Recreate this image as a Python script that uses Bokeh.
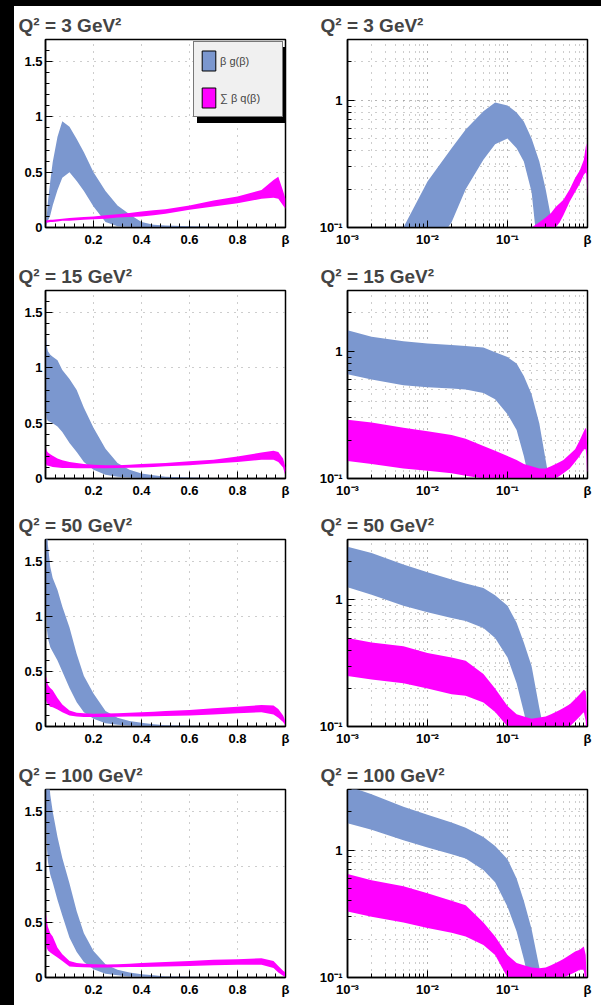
import numpy as np
from bokeh.plotting import figure
from bokeh.models import FixedTicker, CustomJSTickFormatter, Legend, LegendItem, Div, ColumnDataSource
from bokeh.layouts import column, row
from bokeh.embed import file_html
from bokeh.resources import INLINE

# ---------------- data ----------------
beta = [0.001, 0.002, 0.005, 0.01, 0.02, 0.03, 0.05, 0.07, 0.1, 0.13, 0.16, 0.2, 0.25,
        0.3, 0.35, 0.4, 0.45, 0.5, 0.6, 0.7, 0.8, 0.9, 0.95, 0.97, 0.99, 1.0]

q2_values = ["3", "15", "50", "100"]

# gluon band  beta*g(beta)
g3_lo = [0.005, 0.01, 0.03, 0.06, 0.11, 0.2, 0.34, 0.45, 0.5, 0.42, 0.33, 0.19, 0.05,
         0.012, 0.006, 0.004, 0.003, 0.002, 0.0015, 0.001, 0.001, 0.001, 0.001, 0.001, 0.001, 0.001]
g3_hi = [0.02, 0.04, 0.1, 0.23, 0.42, 0.59, 0.82, 0.96, 0.91, 0.8, 0.68, 0.5, 0.33,
         0.2, 0.12, 0.05, 0.025, 0.018, 0.012, 0.006, 0.003, 0.002, 0.002, 0.002, 0.002, 0.002]
g15_lo = [0.66, 0.6, 0.54, 0.52, 0.51, 0.5, 0.47, 0.42, 0.32, 0.24, 0.15, 0.08, 0.035,
          0.015, 0.008, 0.005, 0.004, 0.003, 0.002, 0.001, 0.001, 0.001, 0.001, 0.001, 0.001, 0.001]
g15_hi = [1.46, 1.3, 1.2, 1.15, 1.12, 1.1, 1.07, 0.98, 0.9, 0.8, 0.64, 0.46, 0.27,
          0.14, 0.08, 0.045, 0.03, 0.015, 0.008, 0.004, 0.003, 0.002, 0.002, 0.002, 0.002, 0.002]
g50_lo = [1.26, 1.1, 0.9, 0.8, 0.72, 0.68, 0.6, 0.5, 0.35, 0.22, 0.13, 0.07, 0.03,
          0.015, 0.008, 0.005, 0.004, 0.003, 0.002, 0.001, 0.001, 0.001, 0.001, 0.001, 0.001, 0.001]
g50_hi = [2.63, 2.35, 1.9, 1.65, 1.45, 1.35, 1.24, 1.09, 0.9, 0.66, 0.46, 0.3, 0.14,
          0.08, 0.05, 0.035, 0.02, 0.012, 0.006, 0.004, 0.003, 0.002, 0.002, 0.002, 0.002, 0.002]
g100_lo = [1.63, 1.45, 1.2, 1.05, 0.93, 0.86, 0.7, 0.56, 0.36, 0.23, 0.14, 0.075, 0.035,
           0.02, 0.01, 0.006, 0.004, 0.003, 0.002, 0.001, 0.001, 0.001, 0.001, 0.001, 0.001, 0.001]
g100_hi = [3.2, 2.75, 2.2, 1.9, 1.65, 1.5, 1.27, 1.08, 0.85, 0.6, 0.4, 0.24, 0.12,
           0.07, 0.045, 0.03, 0.02, 0.01, 0.006, 0.004, 0.003, 0.002, 0.002, 0.002, 0.002, 0.002]

# quark singlet band  sum_q beta*q(beta)
q3_lo = [0.04, 0.04, 0.045, 0.045, 0.05, 0.05, 0.055, 0.06, 0.06, 0.065, 0.07, 0.075, 0.08,
         0.09, 0.095, 0.10, 0.11, 0.125, 0.16, 0.19, 0.22, 0.26, 0.27, 0.26, 0.2, 0.17]
q3_hi = [0.06, 0.06, 0.065, 0.065, 0.07, 0.07, 0.075, 0.08, 0.085, 0.09, 0.095, 0.1, 0.11,
         0.12, 0.13, 0.145, 0.155, 0.165, 0.2, 0.245, 0.28, 0.34, 0.43, 0.46, 0.33, 0.26]
q15_lo = [0.137, 0.13, 0.12, 0.115, 0.11, 0.105, 0.1, 0.095, 0.095, 0.093, 0.092, 0.092, 0.093,
          0.095, 0.097, 0.1, 0.105, 0.11, 0.12, 0.135, 0.15, 0.17, 0.17, 0.15, 0.1, 0.02]
q15_hi = [0.29, 0.275, 0.25, 0.235, 0.22, 0.205, 0.18, 0.165, 0.15, 0.14, 0.13, 0.125, 0.12,
          0.12, 0.125, 0.13, 0.135, 0.14, 0.155, 0.17, 0.2, 0.235, 0.25, 0.24, 0.18, 0.1]
q50_lo = [0.25, 0.235, 0.22, 0.2, 0.18, 0.175, 0.155, 0.13, 0.1, 0.09, 0.087, 0.086, 0.087,
          0.088, 0.09, 0.092, 0.094, 0.096, 0.1, 0.11, 0.12, 0.13, 0.11, 0.08, 0.04, 0.01]
q50_hi = [0.5, 0.46, 0.43, 0.38, 0.35, 0.33, 0.26, 0.2, 0.145, 0.125, 0.12, 0.115, 0.118,
          0.12, 0.125, 0.13, 0.135, 0.14, 0.15, 0.165, 0.18, 0.195, 0.19, 0.16, 0.1, 0.05]
q100_lo = [0.33, 0.3, 0.27, 0.245, 0.225, 0.21, 0.18, 0.15, 0.1, 0.095, 0.092, 0.09, 0.09,
           0.092, 0.094, 0.096, 0.098, 0.1, 0.105, 0.11, 0.115, 0.115, 0.085, 0.045, 0.015, 0.005]
q100_hi = [0.65, 0.58, 0.52, 0.46, 0.4, 0.37, 0.27, 0.21, 0.15, 0.13, 0.125, 0.12, 0.118,
           0.12, 0.125, 0.13, 0.135, 0.14, 0.15, 0.16, 0.165, 0.175, 0.15, 0.105, 0.06, 0.045]

gluon_bands = [(g3_lo, g3_hi), (g15_lo, g15_hi), (g50_lo, g50_hi), (g100_lo, g100_hi)]
quark_bands = [(q3_lo, q3_hi), (q15_lo, q15_hi), (q50_lo, q50_hi), (q100_lo, q100_hi)]

lin_x_ticks = [0.2, 0.4, 0.6, 0.8, 1.0]      # the tick at 1 carries the "β" label
lin_y_ticks = [0, 0.5, 1, 1.5]
log_x_ticks = [0.001, 0.01, 0.1, 1.0]        # the tick at 1 carries the "β" label
log_y_ticks = [0.1, 1]

legend_labels = ["β g(β)", "∑ β q(β)"]

# ---------------- style ----------------
BLUE = "#7b97cf"
MAGENTA = "#ff00ff"
GRID = "#9a9a9a"
FONT = "Liberation Sans"

lin_x_fmt = 'if (Math.abs(tick - 1) < 1e-9) { return "\u03b2"; } return String(tick);'
lin_y_fmt = "return String(tick);"
log_x_fmt = """
const e = Math.round(Math.log10(tick));
if (e == 0) { return "\u03b2"; }
const sup = {"-": "\u207b", "0": "\u2070", "1": "\u00b9", "2": "\u00b2", "3": "\u00b3"};
return "10" + String(e).split("").map(c => sup[c]).join("");
"""
log_y_fmt = """
const e = Math.round(Math.log10(tick));
if (e == 0) { return "1"; }
const sup = {"-": "\u207b", "0": "\u2070", "1": "\u00b9", "2": "\u00b2", "3": "\u00b3"};
return "10" + String(e).split("").map(c => sup[c]).join("");
"""


def style_common(p, q2):
    p.title.text = "Q\u00b2 = " + q2 + " GeV\u00b2"
    p.title.text_font = FONT
    p.title.text_font_style = "bold"
    p.title.text_font_size = "19px"
    p.title.align = "left"
    p.title.offset = -27
    p.title.standoff = 8
    p.outline_line_color = "black"
    p.outline_line_width = 1.5
    for ax in (p.xaxis[0], p.yaxis[0]):
        ax.axis_line_color = "black"
        ax.axis_line_width = 1.5
        ax.major_tick_line_color = "black"
        ax.minor_tick_line_color = "black"
        ax.major_tick_out = 0
        ax.minor_tick_out = 0
        ax.major_tick_in = 7
        ax.minor_tick_in = 4
        ax.major_label_text_font = FONT
        ax.major_label_text_font_style = "bold"
        ax.major_label_text_font_size = "13px"
        ax.major_label_text_color = "black"
    p.xaxis.major_label_standoff = 4
    p.yaxis.major_label_standoff = 3
    for g in (p.xgrid[0], p.ygrid[0]):
        g.grid_line_color = GRID
        g.grid_line_dash = "1 6"
        g.grid_line_width = 1


def make_panel(i, log, height, top, bottom):
    g_lo, g_hi = gluon_bands[i]
    q_lo, q_hi = quark_bands[i]
    if log:
        p = figure(width=287, height=height, x_axis_type="log", y_axis_type="log",
                   x_range=(0.001, 1), y_range=(0.1, 3),
                   output_backend="svg", toolbar_location=None,
                   min_border_left=33, min_border_right=14,
                   min_border_top=top, min_border_bottom=bottom,
                   background_fill_color="white", border_fill_color="white")
    else:
        p = figure(width=300, height=height, x_range=(0, 1), y_range=(0, 1.7),
                   output_backend="svg", toolbar_location=None,
                   min_border_left=31, min_border_right=29,
                   min_border_top=top, min_border_bottom=bottom,
                   background_fill_color="white", border_fill_color="white")
    style_common(p, q2_values[i])
    if log:
        x_minor = [m * d for d in (0.001, 0.01, 0.1) for m in range(1, 10)]
        y_minor = [m * 0.1 for m in range(1, 10)] + [1, 2, 3]
        p.xaxis.ticker = FixedTicker(ticks=log_x_ticks, minor_ticks=x_minor)
        p.yaxis.ticker = FixedTicker(ticks=log_y_ticks, minor_ticks=y_minor)
        p.xaxis.formatter = CustomJSTickFormatter(code=log_x_fmt)
        p.yaxis.formatter = CustomJSTickFormatter(code=log_y_fmt)
        p.yaxis.major_label_standoff = 5
        for g in (p.xgrid[0], p.ygrid[0]):
            g.minor_grid_line_color = GRID
            g.minor_grid_line_dash = "1 6"
    else:
        p.xaxis.ticker = FixedTicker(ticks=lin_x_ticks, minor_ticks=[k * 0.04 for k in range(26)])
        p.yaxis.ticker = FixedTicker(ticks=lin_y_ticks, minor_ticks=[k * 0.1 for k in range(18)])
        p.xaxis.formatter = CustomJSTickFormatter(code=lin_x_fmt)
        p.yaxis.formatter = CustomJSTickFormatter(code=lin_y_fmt)
    p.varea(x=beta, y1=g_lo, y2=g_hi, fill_color=BLUE)
    p.varea(x=beta, y1=q_lo, y2=q_hi, fill_color=MAGENTA)
    return p


row_heights = [252, 250, 250, 247]
row_tops = [33, 32, 30, 31]
row_bottoms = [31, 30, 32, 28]

rows = []
for i in range(4):
    left = make_panel(i, False, row_heights[i], row_tops[i], row_bottoms[i])
    right = make_panel(i, True, row_heights[i], row_tops[i], row_bottoms[i])
    if i == 0:
        # legend swatches (no visible data points; they only provide the legend glyphs)
        swatch = ColumnDataSource(data=dict(x=np.array([np.nan]), y=np.array([np.nan])))
        rg = left.rect(x="x", y="y", width=1, height=1, source=swatch,
                       fill_color=BLUE, line_color="black", line_width=1)
        rq = left.rect(x="x", y="y", width=1, height=1, source=swatch,
                       fill_color=MAGENTA, line_color="black", line_width=1)
        for shadow in (True, False):
            labels = [" ", " "] if shadow else legend_labels
            items = [LegendItem(label=labels[0], renderers=[rg]),
                     LegendItem(label=labels[1], renderers=[rq])]
            leg = Legend(items=items, location=(152, 104) if shadow else (148, 110),
                         orientation="vertical", margin=0, padding=6, spacing=12,
                         glyph_width=17, glyph_height=25, label_height=25, label_width=56,
                         label_standoff=3, label_text_font=FONT, label_text_font_size="11px",
                         label_text_color="#444444",
                         background_fill_color="black" if shadow else "#f0f0f0",
                         background_fill_alpha=1.0,
                         border_line_color="black", border_line_width=1)
            left.add_layout(leg, "center")
    rows.append(row(left, right))

grid = column(*rows)
top_strip = Div(width=601, height=6, margin=0, styles={"background-color": "black"})
left_strip = Div(width=14, height=999, margin=0, styles={"background-color": "black"})
page = column(top_strip, row(left_strip, grid))

open("out.html", "w").write(file_html(page, INLINE))
